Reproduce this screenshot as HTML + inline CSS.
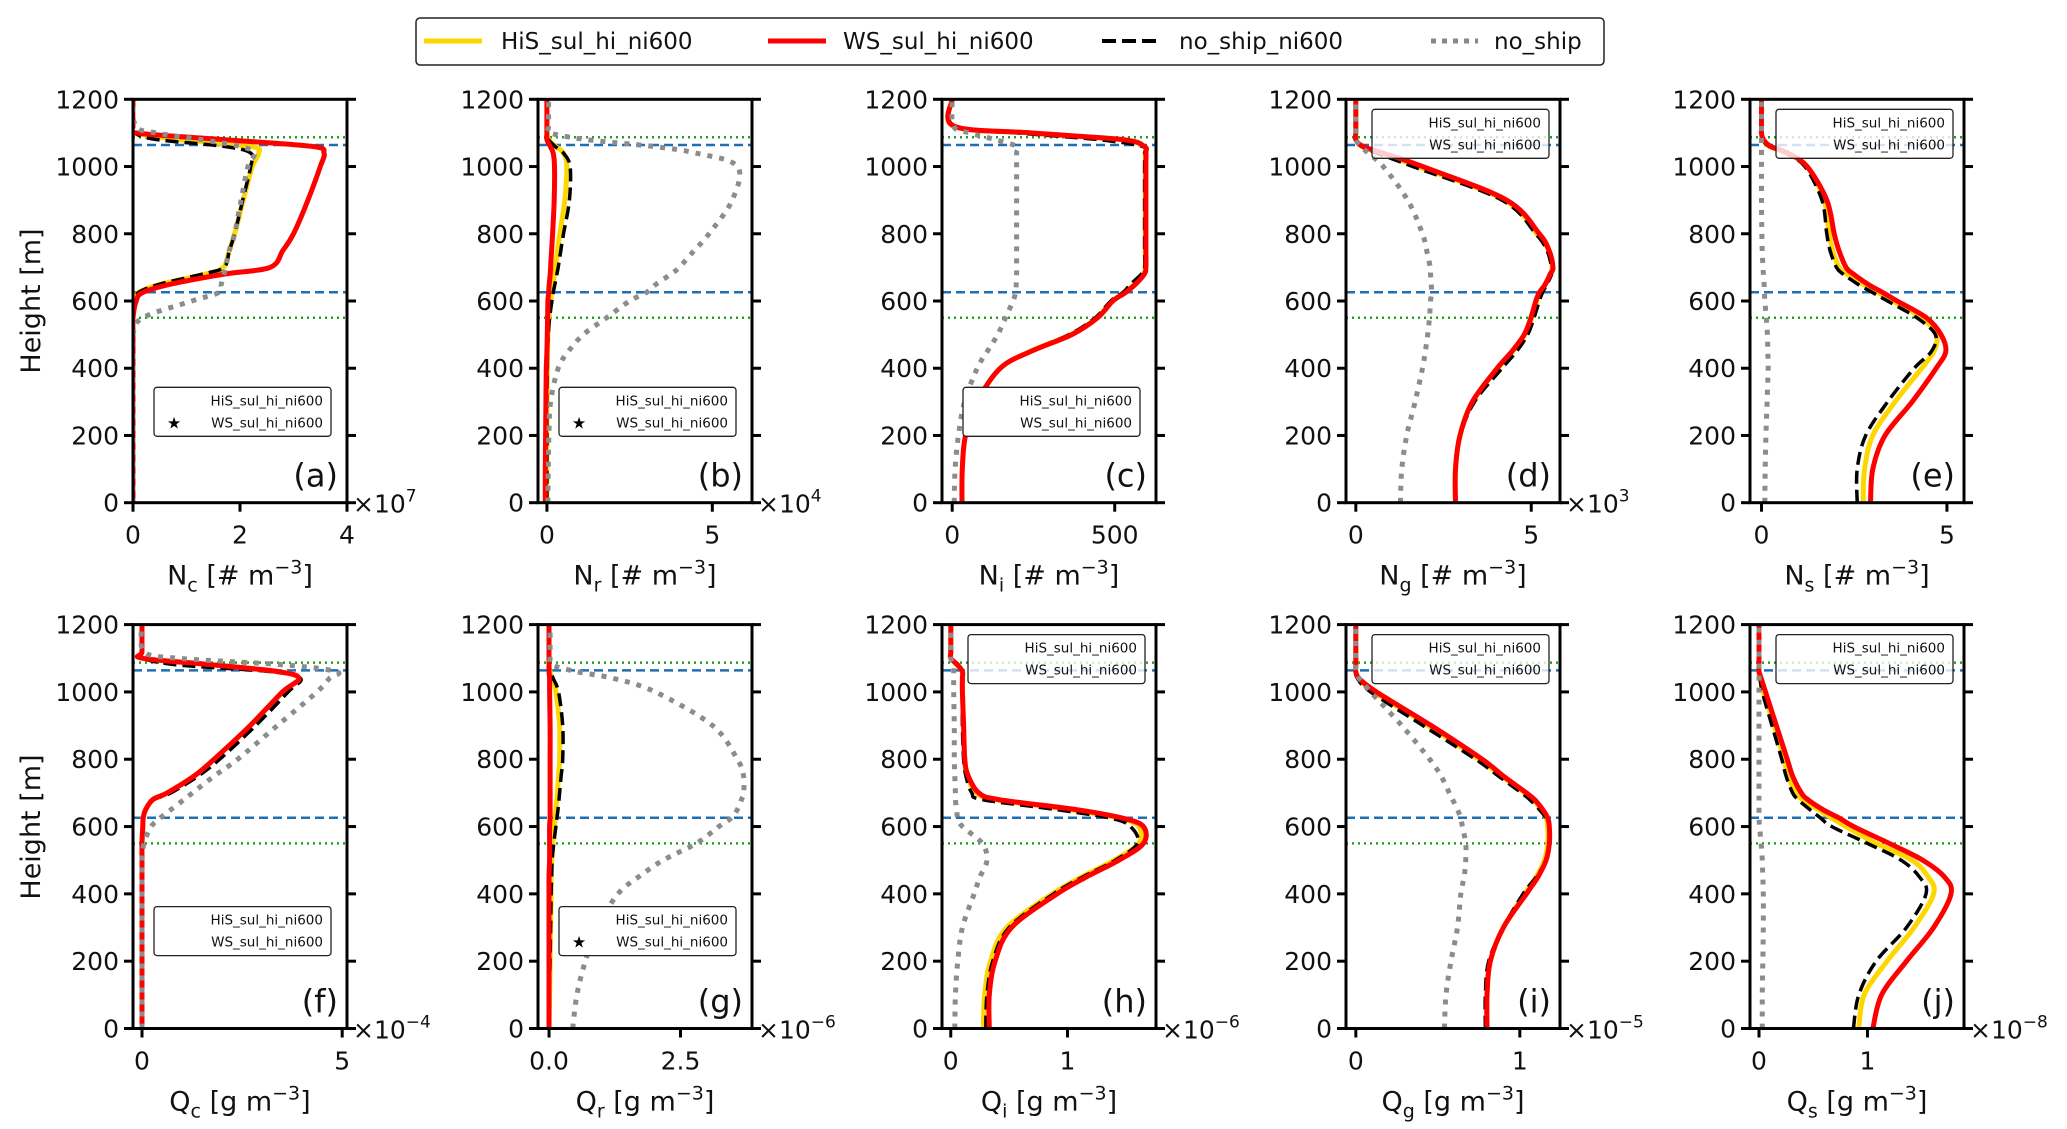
<!DOCTYPE html>
<html><head><meta charset="utf-8"><style>
html,body{margin:0;padding:0;background:#fff;}
svg{display:block;font-family:"DejaVu Sans","Liberation Sans",sans-serif;}
</style></head><body>
<svg id="fig" xmlns="http://www.w3.org/2000/svg" width="2067" height="1129" viewBox="0 0 2067 1129">
<rect x="0" y="0" width="2067" height="1129" fill="#fff"/>
<g id="main-legend">
<rect x="416" y="18" width="1188" height="47" rx="4" fill="#fff" stroke="#222" stroke-width="1.5"/>
<line x1="424" y1="41" x2="482" y2="41" stroke="#FFD700" stroke-width="5"/>
<text x="501" y="49" font-size="23" fill="#111">HiS_sul_hi_ni600</text>
<line x1="768" y1="41" x2="826" y2="41" stroke="#FF0000" stroke-width="5"/>
<text x="843" y="49" font-size="23" fill="#111">WS_sul_hi_ni600</text>
<line x1="1102" y1="41" x2="1160" y2="41" stroke="#000" stroke-width="4" stroke-dasharray="14,6"/>
<text x="1179" y="49" font-size="23" fill="#111">no_ship_ni600</text>
<line x1="1431" y1="41" x2="1478" y2="41" stroke="#888" stroke-width="5" stroke-dasharray="5,6"/>
<text x="1494" y="49" font-size="23" fill="#111">no_ship</text>
</g>
<text x="0" y="0" transform="translate(40,301) rotate(-90)" text-anchor="middle" font-size="27" fill="#111">Height [m]</text>
<text x="0" y="0" transform="translate(40,827) rotate(-90)" text-anchor="middle" font-size="27" fill="#111">Height [m]</text>
</svg>
<script>
// shared heights [m]
const H = [0,100,200,300,400,450,500,550,600,625,650,680,700,750,800,900,1000,1040,1060,1080,1100,1120,1200];
const yTicks = [0,200,400,600,800,1000,1200];

// (a) Nc x1e7
const aY=[0,0,0,0,0,0,0,0,0.02,0.1,0.52,1.35,1.69,1.8,1.9,2.06,2.23,2.35,2.2,0.85,0.02,0,0];
const aR=[0,0,0,0,0,0,0,0,0.06,0.18,0.7,1.7,2.56,2.8,3.0,3.27,3.5,3.57,3.35,1.7,0.05,0,0];
const aK=[0,0,0,0,0,0,0,0,0.02,0.1,0.5,1.3,1.7,1.8,1.9,2.05,2.2,2.2,1.7,0.45,0.02,0,0];
const aG=[0,0,0,0,0,0,0,0.18,1.1,1.6,1.65,1.7,1.73,1.8,1.9,2.02,2.15,2.27,2.0,1.27,0.43,0.05,0];
const aTicks=[0,2,4]; const aTickLabels=['0','2','4'];
// (b) Nr x1e4
const bY=[0,0,0,0,0.01,0.02,0.03,0.06,0.12,0.14,0.18,0.23,0.26,0.32,0.39,0.54,0.6,0.5,0.26,0.05,0,0,0];
const bR=[-0.05,-0.05,-0.04,-0.03,-0.02,0,0.01,0.02,0.03,0.05,0.07,0.1,0.11,0.14,0.17,0.22,0.23,0.19,0.1,0,0,0,0];
const bK=[0,0,0,0,0.01,0.02,0.04,0.08,0.15,0.19,0.24,0.3,0.34,0.42,0.5,0.68,0.7,0.5,0.25,0.05,0,0,0];
const bG=[0.03,0.04,0.06,0.11,0.34,0.65,1.1,1.8,2.5,3.0,3.3,3.75,4.0,4.45,4.9,5.6,5.76,4.5,3.2,1.2,0.1,0.05,0.05];
const bTicks=[0,5]; const bTickLabels=['0','5'];
// (c) Ni
const cY=[30,31,41,77,148,240,365,445,492,530,560,588,594,594,594,594,594,594,590,520,240,5,0];
const cR=[30,31,41,77,148,242,368,447,494,533,564,591,596,596,596,596,596,596,591,525,242,6,0];
const cK=[30,31,41,77,146,238,360,440,488,525,549,582,592,592,592,592,592,592,585,450,200,5,0];
const cG=[6,9,19,38,77,108,140,164,187,195,197,198,198,198,198,198,198,198,198,132,53,4,0];
const cTicks=[0,500]; const cTickLabels=['0','500'];
// (d) Ng x1e3
const dY=[2.84,2.84,2.97,3.32,4.05,4.47,4.82,5.02,5.16,5.25,5.4,5.54,5.6,5.5,5.16,4.24,1.77,0.7,0.18,0,0,0,0];
const dR=[2.84,2.84,2.97,3.32,4.03,4.45,4.8,4.99,5.13,5.23,5.4,5.54,5.62,5.51,5.23,4.3,1.9,0.78,0.2,0,0,0,0];
const dK=[2.84,2.84,2.98,3.38,4.17,4.58,4.9,5.08,5.23,5.32,5.45,5.58,5.58,5.45,5.13,4.17,1.62,0.6,0.15,0,0,0,0];
const dG=[1.27,1.31,1.45,1.69,1.9,1.98,2.05,2.1,2.13,2.16,2.15,2.13,2.12,2.02,1.9,1.48,0.78,0.35,0.14,0,0,0,0];
const dTicks=[0,5]; const dTickLabels=['0','5'];
// (e) Ns
const eY=[2.74,2.78,3.0,3.6,4.32,4.65,4.71,4.32,3.53,3.14,2.74,2.3,2.09,1.92,1.82,1.69,1.23,0.68,0.22,0.04,0,0,0];
const eR=[2.94,3.0,3.33,4.06,4.71,4.97,4.84,4.45,3.66,3.27,2.87,2.48,2.28,2.09,1.96,1.76,1.23,0.71,0.25,0.05,0,0,0];
const eK=[2.58,2.58,2.81,3.4,4.12,4.58,4.69,4.19,3.4,3.0,2.6,2.2,2.02,1.85,1.76,1.63,1.17,0.64,0.2,0.03,0,0,0];
const eG=[0.09,0.1,0.12,0.15,0.18,0.17,0.16,0.13,0.09,0.08,0.07,0.05,0.04,0.02,0.01,0,0,0,0,0,0,0,0];
const eTicks=[0,5]; const eTickLabels=['0','5'];
// (f) Qc x1e-4
const fY=[0,0,0,0,0,0,0,0,0.02,0.03,0.09,0.27,0.63,1.3,1.8,2.7,3.51,3.92,3.42,1.8,0.02,0,0];
const fR=[0,0,0,0,0,0,0,0,0.02,0.03,0.09,0.27,0.63,1.3,1.8,2.7,3.51,3.92,3.42,1.8,0.02,0,0];
const fK=[0,0,0,0,0,0,0,0,0.02,0.03,0.1,0.3,0.72,1.4,1.94,2.84,3.65,3.96,3.24,0.9,0.02,0,0];
const fG=[0,0,0,0,0,0,0,0.05,0.23,0.45,0.72,1.05,1.26,1.8,2.39,3.38,4.37,4.68,4.86,3.6,0.9,0.05,0];
const fTicks=[0,5]; const fTickLabels=['0','5'];
// (g) Qr x1e-6
const gY=[0,0.01,0.02,0.03,0.04,0.04,0.05,0.07,0.1,0.12,0.13,0.15,0.16,0.18,0.2,0.2,0.13,0.06,0.02,0,0,0,0];
const gR=[0,0,0,0,0,0,0.01,0.01,0.01,0.02,0.02,0.02,0.02,0.02,0.02,0.02,0.01,0.01,0,0,0,0,0];
const gK=[0,0.01,0.02,0.03,0.04,0.05,0.06,0.09,0.13,0.15,0.17,0.19,0.2,0.23,0.26,0.26,0.18,0.08,0.03,0,0,0,0];
const gG=[0.45,0.53,0.69,0.92,1.31,1.7,2.17,2.8,3.23,3.46,3.58,3.66,3.7,3.7,3.58,3.11,2.02,1.23,0.53,0.06,0.02,0.02,0.02];
const gTicks=[0,2.5]; const gTickLabels=['0.0','2.5'];
// (h) Qi x1e-6
const hY=[0.28,0.29,0.34,0.48,0.87,1.12,1.4,1.61,1.61,1.44,1.02,0.38,0.22,0.14,0.12,0.11,0.1,0.1,0.1,0.06,0,0,0];
const hR=[0.33,0.33,0.38,0.52,0.91,1.16,1.44,1.65,1.65,1.47,1.08,0.41,0.24,0.15,0.12,0.11,0.1,0.1,0.1,0.06,0,0,0];
const hK=[0.3,0.31,0.36,0.5,0.88,1.13,1.41,1.6,1.54,1.37,0.91,0.27,0.18,0.13,0.11,0.1,0.1,0.1,0.1,0.05,0,0,0];
const hG=[0.035,0.04,0.06,0.1,0.2,0.25,0.31,0.27,0.1,0.06,0.05,0.04,0.04,0.035,0.03,0.03,0.025,0.025,0.025,0.025,0,0,0];
const hTicks=[0,1]; const hTickLabels=['0','1'];
// (i) Qg x1e-5
const iY=[0.8,0.8,0.82,0.9,1.03,1.1,1.15,1.17,1.17,1.16,1.13,1.08,1.03,0.89,0.75,0.44,0.11,0.02,0,0,0,0,0];
const iR=[0.8,0.8,0.82,0.9,1.04,1.11,1.16,1.18,1.18,1.17,1.14,1.09,1.04,0.9,0.77,0.46,0.125,0.02,0,0,0,0,0];
const iK=[0.79,0.79,0.81,0.9,1.02,1.1,1.16,1.18,1.18,1.16,1.12,1.06,1.01,0.87,0.73,0.41,0.09,0.01,0,0,0,0,0];
const iG=[0.54,0.55,0.58,0.62,0.64,0.66,0.67,0.67,0.65,0.64,0.62,0.59,0.57,0.52,0.45,0.28,0.09,0.02,0,0,0,0,0];
const iTicks=[0,1]; const iTickLabels=['0','1'];
// (j) Qs x1e-8
const jY=[0.92,0.97,1.18,1.43,1.61,1.56,1.41,1.08,0.8,0.67,0.55,0.4,0.34,0.27,0.23,0.14,0.04,0.01,0,0,0,0,0];
const jR=[1.05,1.13,1.36,1.61,1.77,1.71,1.51,1.2,0.87,0.74,0.59,0.45,0.39,0.31,0.26,0.16,0.06,0.02,0,0,0,0,0];
const jK=[0.87,0.92,1.08,1.36,1.54,1.48,1.31,1.0,0.67,0.57,0.47,0.36,0.31,0.25,0.21,0.12,0.03,0.01,0,0,0,0,0];
const jG=[0.03,0.03,0.035,0.04,0.04,0.035,0.03,0.02,0.005,0,0,0,0,0,0,0,0,0,0,0,0,0,0];
const jTicks=[0,1]; const jTickLabels=['0','1'];

const NS='http://www.w3.org/2000/svg';
const svg=document.getElementById('fig');
function mk(tag,attrs,parent){const e=document.createElementNS(NS,tag);for(const k in attrs)e.setAttribute(k,attrs[k]);(parent||svg).appendChild(e);return e;}

const colLeft=[133,538,942,1346,1750];
const W=214;
const rows=[{T:99.3,B:502.7},{T:624.6,B:1028.5}];

const panels=[
 {id:'a',col:0,row:0,xmin:0,xmax:4,ticks:aTicks,labels:aTickLabels,mult:'7',sym:'N',sub:'c',unit:'[# m',S:[aY,aR,aK,aG],leg:'bottom',star:true},
 {id:'b',col:1,row:0,xmin:-0.27,xmax:6.2,ticks:bTicks,labels:bTickLabels,mult:'4',sym:'N',sub:'r',unit:'[# m',S:[bY,bR,bK,bG],leg:'bottom',star:true},
 {id:'c',col:2,row:0,xmin:-31.4,xmax:627,ticks:cTicks,labels:cTickLabels,mult:null,sym:'N',sub:'i',unit:'[# m',S:[cY,cR,cK,cG],leg:'bottom',star:false},
 {id:'d',col:3,row:0,xmin:-0.28,xmax:5.82,ticks:dTicks,labels:dTickLabels,mult:'3',sym:'N',sub:'g',unit:'[# m',S:[dY,dR,dK,dG],leg:'top',star:false},
 {id:'e',col:4,row:0,xmin:-0.31,xmax:5.46,ticks:eTicks,labels:eTickLabels,mult:null,sym:'N',sub:'s',unit:'[# m',S:[eY,eR,eK,eG],leg:'top',star:false},
 {id:'f',col:0,row:1,xmin:-0.225,xmax:5.12,ticks:fTicks,labels:fTickLabels,mult:'−4',sym:'Q',sub:'c',unit:'[g m',S:[fY,fR,fK,fG],leg:'bottom',star:false},
 {id:'g',col:1,row:1,xmin:-0.21,xmax:3.86,ticks:gTicks,labels:gTickLabels,mult:'−6',sym:'Q',sub:'r',unit:'[g m',S:[gY,gR,gK,gG],leg:'bottom',star:true},
 {id:'h',col:2,row:1,xmin:-0.075,xmax:1.758,ticks:hTicks,labels:hTickLabels,mult:'−6',sym:'Q',sub:'i',unit:'[g m',S:[hY,hR,hK,hG],leg:'top',star:false},
 {id:'i',col:3,row:1,xmin:-0.06,xmax:1.245,ticks:iTicks,labels:iTickLabels,mult:'−5',sym:'Q',sub:'g',unit:'[g m',S:[iY,iR,iK,iG],leg:'top',star:false},
 {id:'j',col:4,row:1,xmin:-0.083,xmax:1.89,ticks:jTicks,labels:jTickLabels,mult:'−8',sym:'Q',sub:'s',unit:'[g m',S:[jY,jR,jK,jG],leg:'top',star:false}
];
const styles=[
 {name:'his-line',stroke:'#FFD700',w:5,dash:null},
 {name:'ws-line',stroke:'#FF0000',w:5,dash:null},
 {name:'noship-ni600-line',stroke:'#000',w:3.5,dash:'13,6'},
 {name:'noship-line',stroke:'#8c8c8c',w:5,dash:'5,7'}
];
const drawOrder=[0,2,1,3];

function pathFrom(px){
  let d='M'+px[0][0].toFixed(1)+','+px[0][1].toFixed(1);
  for(let k=0;k<px.length-1;k++){
    const p0=px[Math.max(0,k-1)],p1=px[k],p2=px[k+1],p3=px[Math.min(px.length-1,k+2)];
    const c1=[p1[0]+(p2[0]-p0[0])/6,p1[1]+(p2[1]-p0[1])/6];
    const c2=[p2[0]-(p3[0]-p1[0])/6,p2[1]-(p3[1]-p1[1])/6];
    d+=' C'+c1[0].toFixed(1)+','+c1[1].toFixed(1)+' '+c2[0].toFixed(1)+','+c2[1].toFixed(1)+' '+p2[0].toFixed(1)+','+p2[1].toFixed(1);
  }
  return d;
}

panels.forEach(p=>{
  const L=colLeft[p.col],R=L+W,T=rows[p.row].T,B=rows[p.row].B;
  const xs=v=>L+(v-p.xmin)/(p.xmax-p.xmin)*W;
  const ys=h=>B-(h/1200)*(B-T);
  const g=mk('g',{});
  
  
  const clipId='clip'+p.id;
  const cp=mk('clipPath',{id:clipId},g);
  mk('rect',{x:L,y:T,width:W,height:B-T},cp);
  const plot=mk('g',{'clip-path':'url(#'+clipId+')'},g);
  [[1064,'#1f6fb4','9,5',2.5],[626,'#1f6fb4','9,5',2.5],[1087,'#22a022','2,4',2.5],[550,'#22a022','2,4',2.5]].forEach((r,ri)=>{
    const ln=mk('line',{x1:L,x2:R,y1:ys(r[0]),y2:ys(r[0]),stroke:r[1],'stroke-width':r[3],'stroke-dasharray':r[2]},plot);
    
    
  });
  drawOrder.forEach(si=>{
    const vals=p.S[si];
    const px=H.map((h,k)=>[xs(vals[k]),ys(h)]);
    const st=styles[si];
    const a={d:pathFrom(px),fill:'none',stroke:st.stroke,'stroke-width':st.w,'stroke-linejoin':'round'};
    if(st.dash)a['stroke-dasharray']=st.dash;
    const path=mk('path',a,plot);
    
    
  });
  let lx,ly,lop;
  if(p.leg==='bottom'){lx=L+21;ly=T+(p.row===0?288:282);lop=1;}else{lx=R-188;ly=T+10;lop=0.8;}
  const lg=mk('g',{},g);
  
  
  mk('rect',{x:lx,y:ly,width:177,height:49,rx:3,fill:'#fff','fill-opacity':lop,stroke:'#222','stroke-width':1.3},lg);
  const t1=mk('text',{x:lx+169,y:ly+18,'text-anchor':'end','font-size':13.5,fill:'#111'},lg);
  t1.textContent='HiS_sul_hi_ni600';
  const t2=mk('text',{x:lx+169,y:ly+40,'text-anchor':'end','font-size':13.5,fill:'#111'},lg);
  t2.textContent='WS_sul_hi_ni600';
  if(p.star){const s=mk('text',{x:lx+20,y:ly+41,'text-anchor':'middle','font-size':16,fill:'#000'},lg);s.textContent='★';}
  const sp=mk('rect',{x:L,y:T,width:W,height:B-T,fill:'none',stroke:'#000','stroke-width':3},g);
  
  
  yTicks.forEach(h=>{
    const y=ys(h);
    mk('line',{x1:L-9,x2:L,y1:y,y2:y,stroke:'#000','stroke-width':3},g);
    mk('line',{x1:R,x2:R+9,y1:y,y2:y,stroke:'#000','stroke-width':3},g);
    const tl=mk('text',{x:L-14,y:y+9,'text-anchor':'end','font-size':25,fill:'#111'},g);
    tl.textContent=String(h);
    
    
  });
  p.ticks.forEach((v,k)=>{
    const x=xs(v);
    mk('line',{x1:x,x2:x,y1:B,y2:B+9,stroke:'#000','stroke-width':3},g);
    const tl=mk('text',{x:x,y:B+41,'text-anchor':'middle','font-size':25,fill:'#111'},g);
    tl.textContent=p.labels[k];
    
    
  });
  if(p.mult){
    const m=mk('text',{x:R+6,y:B+10,'font-size':25,fill:'#111'},g);
    
    
    const a1=mk('tspan',{},m);a1.textContent='×10';
    const a2=mk('tspan',{dy:-11,'font-size':17},m);a2.textContent=p.mult;
  }
  const lt=mk('text',{x:R-9,y:B-16,'text-anchor':'end','font-size':32,fill:'#111'},g);
  lt.textContent='('+p.id+')';
  
  
  const xl=mk('text',{x:(L+R)/2,y:B+82,'text-anchor':'middle','font-size':27,fill:'#111'},g);
  
  
  const s1=mk('tspan',{},xl);s1.textContent=p.sym;
  const s2=mk('tspan',{dy:7,'font-size':19},xl);s2.textContent=p.sub;
  const s3=mk('tspan',{dy:-7},xl);s3.textContent=' '+p.unit;
  const s4=mk('tspan',{dy:-11,'font-size':19},xl);s4.textContent='−3';
  const s5=mk('tspan',{dy:11},xl);s5.textContent=']';
});
</script>
</body></html>
